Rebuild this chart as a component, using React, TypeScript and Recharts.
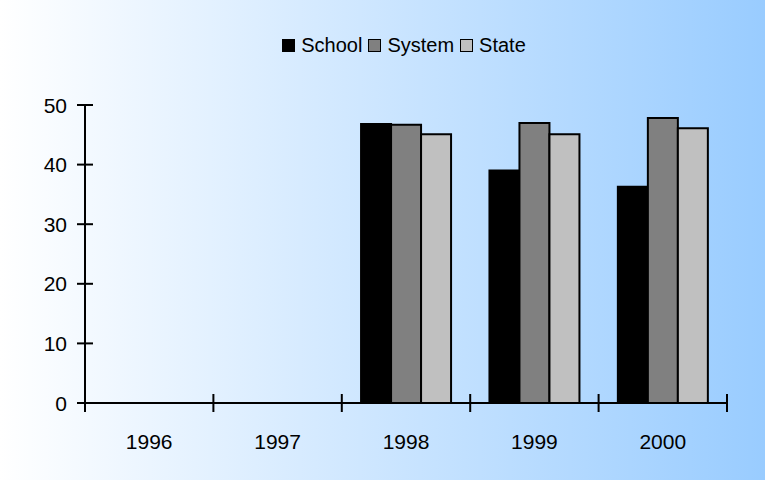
import React from 'react';
import { BarChart, Bar, XAxis, YAxis, Legend } from 'recharts';

const years = ['1996', '1997', '1998', '1999', '2000'];
const seriesNames = ['School', 'System', 'State'];
const school = [null, null, 46.8, 39.0, 36.3];
const system = [null, null, 46.7, 47.0, 47.8];
const state = [null, null, 45.1, 45.1, 46.1];
const yTicks = [0, 10, 20, 30, 40, 50];

const data = years.map((year, i) => ({
  year,
  School: school[i],
  System: system[i],
  State: state[i],
}));

const FONT = '"Liberation Sans", Arial, sans-serif';
const TICK_SIZE = 8;
const TICK_MARGIN = 10;

const YTick = (props: any) => {
  const { x, y, payload } = props;
  const axisX = x + TICK_SIZE + TICK_MARGIN;
  return (
    <g>
      <line x1={axisX - 8} x2={axisX + 8} y1={y} y2={y} stroke="#000" strokeWidth={2} />
      <text x={x} y={y} dy={7.5} textAnchor="end" fontSize={21} fontFamily={FONT} fill="#000">
        {payload.value}
      </text>
    </g>
  );
};

const XTick = (props: any) => {
  const { x, y, payload, index, visibleTicksCount, width } = props;
  const axisY = y - TICK_SIZE - TICK_MARGIN;
  const half = payload.offset || width / visibleTicksCount / 2;
  return (
    <g>
      <line x1={x - half} x2={x - half} y1={axisY - 9} y2={axisY + 9} stroke="#000" strokeWidth={2} />
      {index === visibleTicksCount - 1 && (
        <line x1={x + half} x2={x + half} y1={axisY - 9} y2={axisY + 9} stroke="#000" strokeWidth={2} />
      )}
      <text x={x} y={axisY + 46} textAnchor="middle" fontSize={21} fontFamily={FONT} fill="#000">
        {payload.value}
      </text>
    </g>
  );
};

const LegendContent = (props: any) => {
  const payload = [...(props.payload || [])].sort(
    (a: any, b: any) => seriesNames.indexOf(a.value) - seriesNames.indexOf(b.value)
  );
  return (
    <div style={{ display: 'flex', justifyContent: 'center', alignItems: 'center', fontFamily: FONT, fontSize: 20 }}>
      {payload.map((entry: any) => (
        <div key={entry.value} style={{ display: 'flex', alignItems: 'center', marginRight: 6 }}>
          <span
            style={{
              display: 'inline-block',
              width: 11,
              height: 11,
              background: entry.color,
              border: '1px solid #000',
              marginRight: 6,
            }}
          />
          <span>{entry.value}</span>
        </div>
      ))}
    </div>
  );
};

const App: React.FC = () => {
  return (
    <div
      style={{
        width: 765,
        height: 480,
        background: 'linear-gradient(to right, #ffffff 0%, #99ccff 100%)',
        position: 'relative',
      }}
    >
      <style>{'body { margin: 0; }'}</style>
      <BarChart
        width={765}
        height={480}
        data={data}
        margin={{ top: 105, right: 38, bottom: 37, left: 0 }}
        barCategoryGap="15%"
        barGap={0}
      >
        <XAxis
          dataKey="year"
          height={40}
          axisLine={{ stroke: '#000', strokeWidth: 2 }}
          tickLine={false}
          tickSize={TICK_SIZE}
          tickMargin={TICK_MARGIN}
          tick={<XTick />}
          interval={0}
        />
        <YAxis
          width={85}
          domain={[0, 50]}
          ticks={yTicks}
          axisLine={{ stroke: '#000', strokeWidth: 2 }}
          tickLine={false}
          tickSize={TICK_SIZE}
          tickMargin={TICK_MARGIN}
          tick={<YTick />}
          interval={0}
        />
        <Legend
          verticalAlign="middle"
          align="center"
          itemSorter={null}
          content={<LegendContent />}
          wrapperStyle={{ top: 34, left: 0, width: 814 }}
        />
        <Bar dataKey="School" fill="#000000" stroke="#000" strokeWidth={2} isAnimationActive={false} />
        <Bar dataKey="System" fill="#808080" stroke="#000" strokeWidth={2} isAnimationActive={false} />
        <Bar dataKey="State" fill="#c0c0c0" stroke="#000" strokeWidth={2} isAnimationActive={false} />
      </BarChart>
    </div>
  );
};

export default App;
